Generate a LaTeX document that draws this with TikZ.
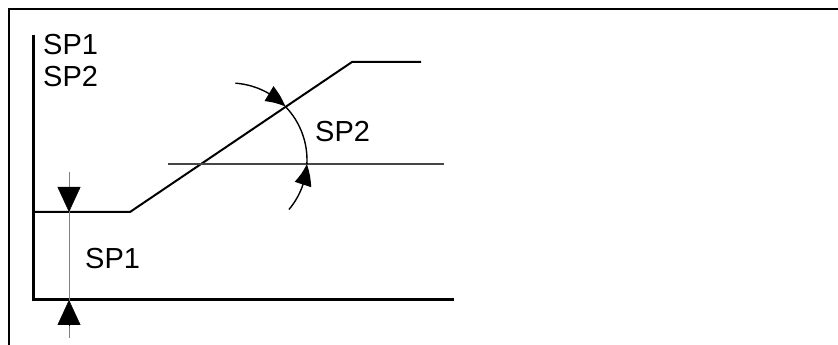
\documentclass[tikz,border=0pt]{standalone}
\usepackage{fontspec}
\setmainfont{Liberation Sans}
\usetikzlibrary{arrows.meta,bending,calc}
\definecolor{DimGray}{RGB}{128,128,128}
\definecolor{LevelGray}{RGB}{70,70,70}
\tikzset{
  frameline/.style={line width=1.2pt},
  axisline/.style={line width=3pt},
  profile/.style={line width=2pt,line join=miter},
  dimline/.style={draw=DimGray,line width=1pt},
  levelline/.style={draw=LevelGray,line width=1.1pt},
  anglearc/.style={line width=1.4pt},
  dimtip/.style={-{Triangle[length=25pt,width=23pt]}},
  arctip/.style={-{Triangle[length=21pt,width=17pt,bend]}},
  sptext/.style={font=\fontsize{29}{29}\selectfont,anchor=west,inner sep=0pt}
}
\begin{document}
\begin{tikzpicture}[x=1pt,y=1pt]
\useasboundingbox (0,0) rectangle (838,345);

% frame
\coordinate (f0) at (9,0);
\coordinate (f1) at (9,336);
\coordinate (f2) at (838,336);
\draw[frameline] (f0) -- (f1) -- (f2);

% axes
\coordinate (ytop) at (33,310);
\coordinate (orig) at (33,45);
\coordinate (xend) at (454,45);
\draw[axisline] (ytop) -- (33,43.5);
\draw[axisline] (31.5,45) -- (xend);

% slope profile
\coordinate (toe) at (33,133);
\coordinate (toe2) at (130,133);
\coordinate (crest) at (352,283);
\coordinate (crest2) at (421,283);
\draw[profile] (toe) -- (toe2) -- (crest) -- (crest2);

% height dimension
\coordinate (d0) at (69,173);
\coordinate (d1) at (69,7);
\draw[dimline] (d0) -- (d1);
\draw[dimtip] (69,158) -- (69,133);
\draw[dimtip] (69,20) -- (69,45);

% level line and angle
\coordinate (l0) at (168,181);
\coordinate (l1) at (444,181);
\draw[levelline] (l0) -- (l1);
\coordinate (c) at (230,185);
\draw[anglearc,arctip] ($(c)+(86:77)$) arc[start angle=86,end angle=44,radius=77];
\draw[anglearc] ($(c)+(44:77)$) arc[start angle=44,end angle=-3,radius=77];
\draw[anglearc,arctip] ($(c)+(-40:77)$) arc[start angle=-40,end angle=-3,radius=77];

% labels
\node[sptext] (sp1a) at (43,300) {SP1};
\node[sptext] (sp2a) at (43,268) {SP2};
\node[sptext] (sp1b) at (85,86) {SP1};
\node[sptext] (sp2b) at (315,213) {SP2};
\end{tikzpicture}
\end{document}
